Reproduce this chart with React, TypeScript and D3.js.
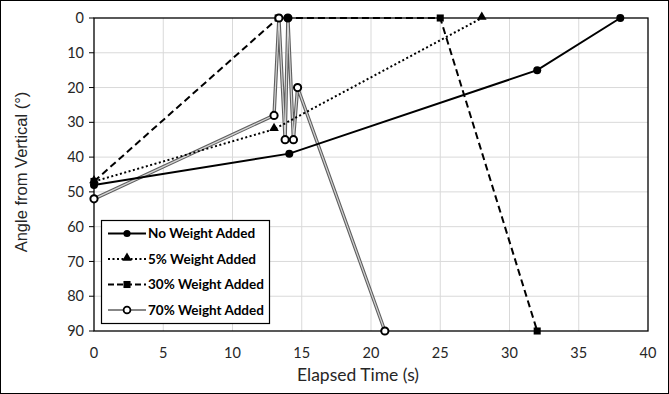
import { useEffect, useRef } from "react";
import * as d3 from "d3";

interface Pt {
  t: number;
  a: number;
}

// Data
const noWeight: Pt[] = [
  { t: 0, a: 48 },
  { t: 14.1, a: 39 },
  { t: 32, a: 15 },
  { t: 38, a: 0 },
];
const noWeightExtra: Pt[] = [{ t: 14, a: 0 }];
const fivePct: Pt[] = [
  { t: 0, a: 47 },
  { t: 13, a: 32 },
  { t: 28, a: 0 },
];
const thirtyPct: Pt[] = [
  { t: 0, a: 47 },
  { t: 13.3, a: 0 },
  { t: 25, a: 0 },
  { t: 32, a: 90 },
];
const seventyPct: Pt[] = [
  { t: 0, a: 52 },
  { t: 13, a: 28 },
  { t: 13.35, a: 0 },
  { t: 13.8, a: 35 },
  { t: 14, a: 0 },
  { t: 14.4, a: 35 },
  { t: 14.7, a: 20 },
  { t: 21, a: 90 },
];

const xTicks = [0, 5, 10, 15, 20, 25, 30, 35, 40];
const yTicks = [0, 10, 20, 30, 40, 50, 60, 70, 80, 90];
const legendLabels = [
  "No Weight Added",
  "5% Weight Added",
  "30% Weight Added",
  "70% Weight Added",
];

const FONT = "Lato, 'Open Sans', sans-serif";

export default function App() {
  const svgRef = useRef<SVGSVGElement>(null);

  useEffect(() => {
    if (!svgRef.current) return;
    const root = d3.select(svgRef.current);
    root.selectAll("*").remove();

    const width = 669;
    const height = 394;
    const left = 94;
    const right = 648;
    const top = 18;
    const bottom = 331;

    root.attr("width", width).attr("height", height);

    // chart border
    root
      .append("rect")
      .attr("x", 0.5)
      .attr("y", 0.5)
      .attr("width", width - 1)
      .attr("height", height - 1)
      .attr("fill", "white")
      .attr("stroke", "black");

    const x = d3.scaleLinear().domain([0, 40]).range([left, right]);
    const y = d3.scaleLinear().domain([0, 90]).range([top, bottom]);

    // gridlines
    root
      .append("g")
      .selectAll("line")
      .data(xTicks.slice(1, -1))
      .enter()
      .append("line")
      .attr("x1", (d) => x(d))
      .attr("x2", (d) => x(d))
      .attr("y1", top)
      .attr("y2", bottom)
      .attr("stroke", "#d9d9d9");
    root
      .append("g")
      .selectAll("line")
      .data(yTicks.slice(1, -1))
      .enter()
      .append("line")
      .attr("x1", left)
      .attr("x2", right)
      .attr("y1", (d) => y(d))
      .attr("y2", (d) => y(d))
      .attr("stroke", "#d9d9d9");

    // plot area border
    root
      .append("rect")
      .attr("x", left)
      .attr("y", top)
      .attr("width", right - left)
      .attr("height", bottom - top)
      .attr("fill", "none")
      .attr("stroke", "black")
      .attr("stroke-width", 1.3);

    // y axis ticks + labels
    const yAxis = root.append("g");
    yAxis
      .selectAll("line")
      .data(yTicks)
      .enter()
      .append("line")
      .attr("x1", left - 5)
      .attr("x2", left)
      .attr("y1", (d) => y(d))
      .attr("y2", (d) => y(d))
      .attr("stroke", "black");
    yAxis
      .selectAll("text")
      .data(yTicks)
      .enter()
      .append("text")
      .attr("x", left - 10)
      .attr("y", (d) => y(d))
      .attr("dy", "0.35em")
      .attr("text-anchor", "end")
      .attr("font-family", FONT)
      .attr("font-size", 14.5)
      .attr("fill", "#262626")
      .text((d) => d);

    // x tick labels
    root
      .append("g")
      .selectAll("text")
      .data(xTicks)
      .enter()
      .append("text")
      .attr("x", (d) => x(d))
      .attr("y", 353)
      .attr("dy", "0.35em")
      .attr("text-anchor", "middle")
      .attr("font-family", FONT)
      .attr("font-size", 14.5)
      .attr("fill", "#262626")
      .text((d) => d);

    // axis titles
    root
      .append("text")
      .attr("x", 358)
      .attr("y", 375)
      .attr("dy", "0.35em")
      .attr("text-anchor", "middle")
      .attr("font-family", FONT)
      .attr("font-size", 17.5)
      .attr("fill", "#262626")
      .text("Elapsed Time (s)");
    root
      .append("text")
      .attr("transform", `translate(21,172) rotate(-90)`)
      .attr("dy", "0.35em")
      .attr("text-anchor", "middle")
      .attr("font-family", "'Liberation Sans', Arial, sans-serif")
      .attr("font-size", 16.5)
      .attr("fill", "#262626")
      .text("Angle from Vertical (°)");

    const line = d3
      .line<Pt>()
      .x((d) => x(d.t))
      .y((d) => y(d.a));

    const plot = root.append("g");

    // 70% series (gray double line)
    plot
      .append("path")
      .attr("d", line(seventyPct))
      .attr("fill", "none")
      .attr("stroke", "#5f5f5f")
      .attr("stroke-width", 3.4);
    plot
      .append("path")
      .attr("d", line(seventyPct))
      .attr("fill", "none")
      .attr("stroke", "#d4d4d4")
      .attr("stroke-width", 1.2);

    // 30% dashed
    plot
      .append("path")
      .attr("d", line(thirtyPct))
      .attr("fill", "none")
      .attr("stroke", "black")
      .attr("stroke-width", 2)
      .attr("stroke-dasharray", "7,4");

    // 5% dotted
    plot
      .append("path")
      .attr("d", line(fivePct))
      .attr("fill", "none")
      .attr("stroke", "black")
      .attr("stroke-width", 2)
      .attr("stroke-dasharray", "2,2.5");

    // no weight solid
    plot
      .append("path")
      .attr("d", line(noWeight))
      .attr("fill", "none")
      .attr("stroke", "black")
      .attr("stroke-width", 2);

    const tri = d3.symbol().type(d3.symbolTriangle).size(40);
    const sq = d3.symbol().type(d3.symbolSquare).size(50);

    plot
      .selectAll(".sq")
      .data(thirtyPct)
      .enter()
      .append("path")
      .attr("d", sq)
      .attr("transform", (d) => `translate(${x(d.t)},${y(d.a)})`)
      .attr("fill", "black");
    plot
      .selectAll(".tri")
      .data(fivePct)
      .enter()
      .append("path")
      .attr("d", tri)
      .attr("transform", (d) => `translate(${x(d.t)},${y(d.a) - 1})`)
      .attr("fill", "black");
    plot
      .selectAll(".hc")
      .data(seventyPct)
      .enter()
      .append("circle")
      .attr("cx", (d) => x(d.t))
      .attr("cy", (d) => y(d.a))
      .attr("r", 3.6)
      .attr("fill", "white")
      .attr("stroke", "black")
      .attr("stroke-width", 2);
    plot
      .selectAll(".fc")
      .data([...noWeight, ...noWeightExtra])
      .enter()
      .append("circle")
      .attr("cx", (d) => x(d.t))
      .attr("cy", (d) => y(d.a))
      .attr("r", 4)
      .attr("fill", "black");

    // legend
    const legend = root.append("g").attr("transform", "translate(101,220)");
    legend
      .append("rect")
      .attr("x", 0.5)
      .attr("y", 0.5)
      .attr("width", 168)
      .attr("height", 103)
      .attr("fill", "white")
      .attr("stroke", "black")
      .attr("stroke-width", 1.2);

    const items = legend
      .selectAll(".item")
      .data(legendLabels)
      .enter()
      .append("g")
      .attr("transform", (d, i) => `translate(0,${13.5 + i * 25.5})`);

    items
      .append("line")
      .attr("x1", 7)
      .attr("x2", 45)
      .attr("y1", 0)
      .attr("y2", 0)
      .attr("stroke", (d, i) => (i === 3 ? "#5f5f5f" : "black"))
      .attr("stroke-width", (d, i) => (i === 3 ? 1.5 : 2))
      .attr("stroke-dasharray", (d, i) =>
        i === 1 ? "2,2.5" : i === 2 ? "6,3" : null
      );

    items.each(function (d, i) {
      const g = d3.select(this);
      if (i === 0) g.append("circle").attr("cx", 26).attr("r", 3.6).attr("fill", "black");
      if (i === 1)
        g.append("path").attr("d", tri).attr("transform", "translate(26,-1)").attr("fill", "black");
      if (i === 2)
        g.append("path").attr("d", sq).attr("transform", "translate(26,0)").attr("fill", "black");
      if (i === 3)
        g.append("circle")
          .attr("cx", 26)
          .attr("r", 3.4)
          .attr("fill", "white")
          .attr("stroke", "black")
          .attr("stroke-width", 1.8);
    });

    items
      .append("text")
      .attr("x", 47)
      .attr("y", 0)
      .attr("dy", "0.35em")
      .attr("font-family", FONT)
      .attr("font-size", 13.5)
      .attr("font-weight", "bold")
      .attr("fill", "black")
      .text((d) => d);
  }, []);

  return (
    <div style={{ position: "absolute", top: 0, left: 0 }}>
      <svg ref={svgRef}></svg>
    </div>
  );
}
